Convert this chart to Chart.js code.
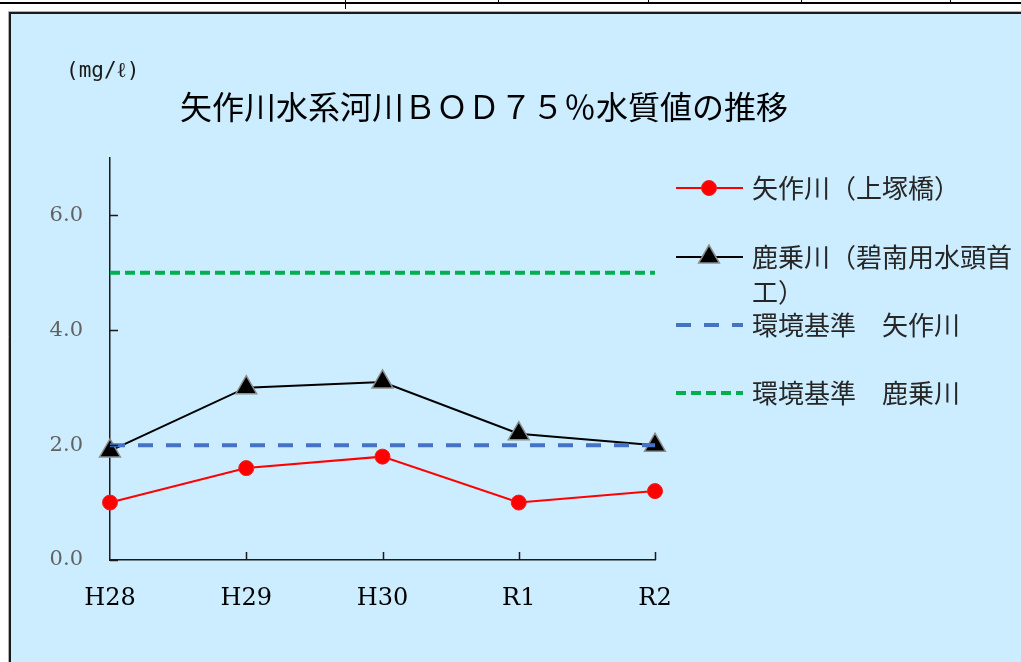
<!DOCTYPE html>
<html lang="ja">
<head>
<meta charset="utf-8">
<script src="https://cdn.jsdelivr.net/npm/chart.js@4/dist/chart.umd.min.js"></script>
<style>
html,body{margin:0;padding:0;background:#fff;overflow:hidden}
canvas{display:block}
</style>
</head>
<body>
<canvas id="c" width="1021" height="662"></canvas>
<script>
// 年度
const years = ['H28', 'H29', 'H30', 'R1', 'R2'];
// BOD 75%値 (mg/ℓ)
const yahagiKamitsuka = [1.0, 1.6, 1.8, 1.0, 1.2];
const kanoriHekinan = [1.9, 3.0, 3.1, 2.2, 2.0];
// 環境基準
const stdYahagi = [2.0, 2.0, 2.0, 2.0, 2.0];
const stdKanori = [5.0, 5.0, 5.0, 5.0, 5.0];
// 縦軸の目盛
const yTicks = [0, 2, 4, 6];
const yMax = 7;

const seriesNames = ['矢作川（上塚橋）', '鹿乗川（碧南用水頭首工）', '環境基準　矢作川', '環境基準　鹿乗川'];
const chartTitle = '矢作川水系河川ＢＯＤ７５％水質値の推移';
const unitLabel = '(mg/ℓ)';

const PANEL_BG = '#CCECFF';
const JP_FONT = '"Noto Sans CJK JP", "Noto Sans", sans-serif';
const NUM_FONT = '"DejaVu Serif", "Liberation Serif", serif';

// 背景・枠
const framePlugin = {
  id: 'frame',
  beforeDraw(chart) {
    const ctx = chart.ctx;
    const w = chart.width, h = chart.height;
    ctx.save();
    ctx.fillStyle = '#ffffff';
    ctx.fillRect(0, 0, w, h);
    // 上部の罫線
    ctx.fillStyle = '#000000';
    ctx.fillRect(0, 2, w, 2);
    ctx.fillRect(345, 0, 1, 9);
    [498, 648, 801, 950].forEach(x => ctx.fillRect(x, 0, 1, 2));
    // グラフパネル
    ctx.fillStyle = PANEL_BG;
    ctx.fillRect(9, 12, w - 9, h - 12);
    ctx.strokeStyle = '#b0b0b0';
    ctx.lineWidth = 1;
    ctx.beginPath();
    ctx.moveTo(8.5, h);
    ctx.lineTo(8.5, 11.5);
    ctx.lineTo(w, 11.5);
    ctx.stroke();
    ctx.strokeStyle = '#1a1a1a';
    ctx.lineWidth = 2;
    ctx.beginPath();
    ctx.moveTo(10, h);
    ctx.lineTo(10, 13);
    ctx.lineTo(w, 13);
    ctx.stroke();
    ctx.restore();
  }
};

// タイトル・単位・凡例・内向き目盛
const decorPlugin = {
  id: 'decor',
  afterDraw(chart) {
    const ctx = chart.ctx;
    const area = chart.chartArea;
    const xs = chart.scales.x, ys = chart.scales.y;
    ctx.save();

    // 内向き目盛
    ctx.strokeStyle = '#1a1a1a';
    ctx.lineWidth = 1.5;
    ctx.beginPath();
    yTicks.forEach(v => {
      const y = Math.round(ys.getPixelForValue(v)) + 0.5;
      ctx.moveTo(area.left, y);
      ctx.lineTo(area.left + 8, y);
    });
    years.forEach((_, i) => {
      if (i === 0) return;
      const x = Math.round(xs.getPixelForValue(i)) + 0.5;
      ctx.moveTo(x, area.bottom);
      ctx.lineTo(x, area.bottom - 8);
    });
    ctx.stroke();

    // 単位
    ctx.fillStyle = '#1a1a1a';
    ctx.font = '21px "DejaVu Sans Mono", monospace';
    ctx.textAlign = 'left';
    ctx.textBaseline = 'middle';
    ctx.fillText(unitLabel, 66, 72);

    // タイトル
    ctx.font = '32px ' + JP_FONT;
    ctx.textAlign = 'center';
    ctx.fillStyle = '#000000';
    ctx.fillText(chartTitle, 484, 107);

    // 凡例
    const lx0 = 676, lx1 = 743, lmx = 709, tx = 752, maxW = 1021 - tx - 4;
    const rowYs = [188, 257, 325, 393];
    ctx.font = '26px ' + JP_FONT;
    ctx.textAlign = 'left';
    chart.data.datasets.forEach((ds, i) => {
      const y = rowYs[i];
      ctx.save();
      ctx.strokeStyle = ds.borderColor;
      ctx.lineWidth = ds.borderWidth;
      ctx.setLineDash(ds.borderDash || []);
      ctx.beginPath();
      ctx.moveTo(lx0, y);
      ctx.lineTo(lx1, y);
      ctx.stroke();
      ctx.setLineDash([]);
      if (ds.pointRadius > 0) {
        ctx.fillStyle = ds.pointBackgroundColor;
        ctx.strokeStyle = ds.pointBorderColor;
        ctx.lineWidth = ds.pointBorderWidth;
        Chart.helpers.drawPoint(ctx, {
          pointStyle: ds.pointStyle,
          radius: ds.pointRadius,
          rotation: 0,
          borderWidth: ds.pointBorderWidth
        }, lmx, y);
      }
      ctx.restore();
      // 折り返し
      const lines = [];
      let cur = '';
      for (const ch of ds.label) {
        if (ctx.measureText(cur + ch).width > maxW && cur) {
          lines.push(cur);
          cur = ch;
        } else {
          cur += ch;
        }
      }
      lines.push(cur);
      ctx.fillStyle = '#262626';
      lines.forEach((t, k) => ctx.fillText(t, tx, y + k * 35));
    });
    ctx.restore();
  }
};

new Chart(document.getElementById('c'), {
  type: 'line',
  data: {
    labels: years,
    datasets: [
      {
        label: seriesNames[0],
        data: yahagiKamitsuka,
        borderColor: '#FF0000',
        borderWidth: 2,
        pointStyle: 'circle',
        pointRadius: 7.5,
        pointBackgroundColor: '#FF0000',
        pointBorderColor: '#F02020',
        pointBorderWidth: 1,
        order: 3,
        clip: false
      },
      {
        label: seriesNames[1],
        data: kanoriHekinan,
        borderColor: '#000000',
        borderWidth: 2,
        pointStyle: 'triangle',
        pointRadius: 12,
        pointBackgroundColor: '#000000',
        pointBorderColor: '#8c8c8c',
        pointBorderWidth: 1.5,
        order: 2,
        clip: false
      },
      {
        label: seriesNames[2],
        data: stdYahagi,
        borderColor: '#4472C4',
        borderWidth: 4,
        borderDash: [15, 13],
        pointRadius: 0,
        order: 0,
        clip: false
      },
      {
        label: seriesNames[3],
        data: stdKanori,
        borderColor: '#00B050',
        borderWidth: 4,
        borderDash: [10, 5],
        pointRadius: 0,
        order: 1,
        clip: false
      }
    ]
  },
  options: {
    responsive: false,
    animation: false,
    devicePixelRatio: 1,
    layout: { padding: { left: 0, top: 158, right: 366, bottom: 0 } },
    plugins: {
      legend: { display: false },
      title: { display: false },
      tooltip: { enabled: false }
    },
    elements: { line: { tension: 0 } },
    scales: {
      x: {
        offset: false,
        grid: { display: false, drawTicks: false },
        border: { display: true, color: '#1a1a1a', width: 1.5 },
        ticks: {
          color: '#000000',
          font: { family: NUM_FONT, size: 24 },
          padding: 24,
          maxRotation: 0
        },
        afterFit(s) { s.height = 102; }
      },
      y: {
        min: 0,
        max: yMax,
        grid: { display: false, drawTicks: false },
        border: { display: true, color: '#1a1a1a', width: 1.5 },
        ticks: {
          color: '#626262',
          font: { family: NUM_FONT, size: 21 },
          padding: 27,
          callback: v => Number(v).toFixed(1)
        },
        afterBuildTicks(s) { s.ticks = yTicks.map(v => ({ value: v })); },
        afterFit(s) { s.width = 110; }
      }
    }
  },
  plugins: [framePlugin, decorPlugin]
});
</script>
</body>
</html>
